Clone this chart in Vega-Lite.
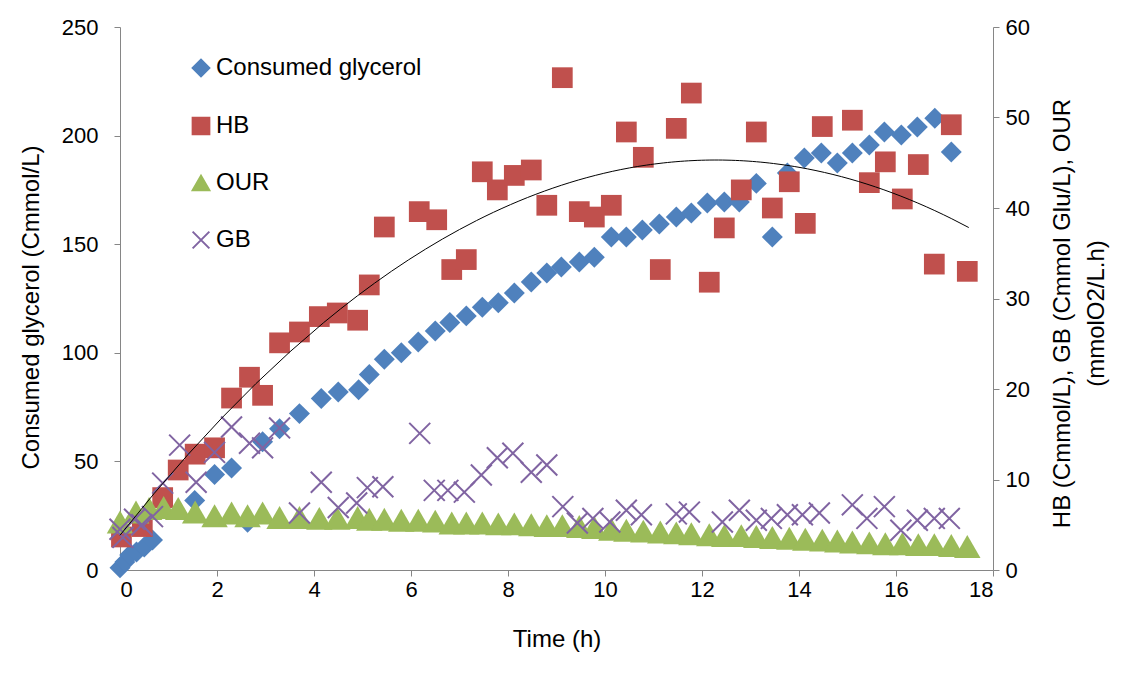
{
  "$schema": "https://vega.github.io/schema/vega-lite/v6.json",
  "width": 873,
  "height": 543,
  "autosize": "none",
  "padding": {"left": 120, "top": 27, "right": 147, "bottom": 112},
  "background": "white",
  "config": {
    "view": {"stroke": null},
    "font": "Liberation Sans",
    "axis": {
      "grid": false,
      "domainColor": "#868686",
      "tickColor": "#868686",
      "tickSize": 6,
      "labelFont": "Liberation Sans",
      "labelFontSize": 22,
      "labelColor": "#000000",
      "titleFont": "Liberation Sans",
      "titleFontSize": 24,
      "titleFontWeight": "normal",
      "titleColor": "#000000"
    }
  },
  "datasets": {
    "series": [
      {"s": "Consumed glycerol", "t": 0, "v": 1},
      {"s": "Consumed glycerol", "t": 0.1, "v": 3.7},
      {"s": "Consumed glycerol", "t": 0.2, "v": 6.9},
      {"s": "Consumed glycerol", "t": 0.34, "v": 8.3},
      {"s": "Consumed glycerol", "t": 0.5, "v": 10.6},
      {"s": "Consumed glycerol", "t": 0.67, "v": 13.8},
      {"s": "Consumed glycerol", "t": 1.54, "v": 32},
      {"s": "Consumed glycerol", "t": 1.95, "v": 44},
      {"s": "Consumed glycerol", "t": 2.3, "v": 47},
      {"s": "Consumed glycerol", "t": 2.63, "v": 22},
      {"s": "Consumed glycerol", "t": 2.94, "v": 59},
      {"s": "Consumed glycerol", "t": 3.29, "v": 65},
      {"s": "Consumed glycerol", "t": 3.7, "v": 72},
      {"s": "Consumed glycerol", "t": 4.15, "v": 79},
      {"s": "Consumed glycerol", "t": 4.5, "v": 82},
      {"s": "Consumed glycerol", "t": 4.92, "v": 83},
      {"s": "Consumed glycerol", "t": 5.14, "v": 90},
      {"s": "Consumed glycerol", "t": 5.45, "v": 97},
      {"s": "Consumed glycerol", "t": 5.8, "v": 100},
      {"s": "Consumed glycerol", "t": 6.15, "v": 105},
      {"s": "Consumed glycerol", "t": 6.5, "v": 110},
      {"s": "Consumed glycerol", "t": 6.8, "v": 114},
      {"s": "Consumed glycerol", "t": 7.14, "v": 117},
      {"s": "Consumed glycerol", "t": 7.47, "v": 121},
      {"s": "Consumed glycerol", "t": 7.8, "v": 123},
      {"s": "Consumed glycerol", "t": 8.13, "v": 127.5},
      {"s": "Consumed glycerol", "t": 8.48, "v": 132.6},
      {"s": "Consumed glycerol", "t": 8.8, "v": 136.7},
      {"s": "Consumed glycerol", "t": 9.1, "v": 139.5},
      {"s": "Consumed glycerol", "t": 9.47, "v": 141.8},
      {"s": "Consumed glycerol", "t": 9.78, "v": 144},
      {"s": "Consumed glycerol", "t": 10.13, "v": 153.3},
      {"s": "Consumed glycerol", "t": 10.44, "v": 153.3},
      {"s": "Consumed glycerol", "t": 10.77, "v": 156.5},
      {"s": "Consumed glycerol", "t": 11.12, "v": 159.3},
      {"s": "Consumed glycerol", "t": 11.47, "v": 162.5},
      {"s": "Consumed glycerol", "t": 11.78, "v": 164.4},
      {"s": "Consumed glycerol", "t": 12.11, "v": 169},
      {"s": "Consumed glycerol", "t": 12.46, "v": 169.4},
      {"s": "Consumed glycerol", "t": 12.77, "v": 169.4},
      {"s": "Consumed glycerol", "t": 13.12, "v": 178},
      {"s": "Consumed glycerol", "t": 13.45, "v": 153.3},
      {"s": "Consumed glycerol", "t": 13.76, "v": 182.8},
      {"s": "Consumed glycerol", "t": 14.11, "v": 189.7},
      {"s": "Consumed glycerol", "t": 14.46, "v": 192},
      {"s": "Consumed glycerol", "t": 14.79, "v": 187.4},
      {"s": "Consumed glycerol", "t": 15.1, "v": 192},
      {"s": "Consumed glycerol", "t": 15.45, "v": 195.7},
      {"s": "Consumed glycerol", "t": 15.76, "v": 201.7},
      {"s": "Consumed glycerol", "t": 16.11, "v": 200.3},
      {"s": "Consumed glycerol", "t": 16.44, "v": 204},
      {"s": "Consumed glycerol", "t": 16.8, "v": 208},
      {"s": "Consumed glycerol", "t": 17.14, "v": 192.4},

      {"s": "HB", "t": 0.03, "v": 3.65},
      {"s": "HB", "t": 0.46, "v": 4.8},
      {"s": "HB", "t": 0.88, "v": 8.0},
      {"s": "HB", "t": 1.2, "v": 11.05},
      {"s": "HB", "t": 1.55, "v": 12.8},
      {"s": "HB", "t": 1.95, "v": 13.5},
      {"s": "HB", "t": 2.3, "v": 19.0},
      {"s": "HB", "t": 2.67, "v": 21.3},
      {"s": "HB", "t": 2.94, "v": 19.3},
      {"s": "HB", "t": 3.29, "v": 25.1},
      {"s": "HB", "t": 3.7, "v": 26.3},
      {"s": "HB", "t": 4.11, "v": 28.0},
      {"s": "HB", "t": 4.48, "v": 28.4},
      {"s": "HB", "t": 4.9, "v": 27.6},
      {"s": "HB", "t": 5.14, "v": 31.5},
      {"s": "HB", "t": 5.45, "v": 37.9},
      {"s": "HB", "t": 6.17, "v": 39.6},
      {"s": "HB", "t": 6.53, "v": 38.7},
      {"s": "HB", "t": 6.84, "v": 33.2},
      {"s": "HB", "t": 7.14, "v": 34.3},
      {"s": "HB", "t": 7.47, "v": 44.0},
      {"s": "HB", "t": 7.78, "v": 42.0},
      {"s": "HB", "t": 8.13, "v": 43.6},
      {"s": "HB", "t": 8.48, "v": 44.2},
      {"s": "HB", "t": 8.8, "v": 40.3},
      {"s": "HB", "t": 9.12, "v": 54.4},
      {"s": "HB", "t": 9.47, "v": 39.6},
      {"s": "HB", "t": 9.78, "v": 39.0},
      {"s": "HB", "t": 10.13, "v": 40.3},
      {"s": "HB", "t": 10.44, "v": 48.4},
      {"s": "HB", "t": 10.79, "v": 45.6},
      {"s": "HB", "t": 11.14, "v": 33.2},
      {"s": "HB", "t": 11.47, "v": 48.8},
      {"s": "HB", "t": 11.78, "v": 52.7},
      {"s": "HB", "t": 12.15, "v": 31.8},
      {"s": "HB", "t": 12.46, "v": 37.8},
      {"s": "HB", "t": 12.81, "v": 42.0},
      {"s": "HB", "t": 13.12, "v": 48.4},
      {"s": "HB", "t": 13.45, "v": 40.0},
      {"s": "HB", "t": 13.8, "v": 42.9},
      {"s": "HB", "t": 14.13, "v": 38.3},
      {"s": "HB", "t": 14.48, "v": 49.0},
      {"s": "HB", "t": 15.1, "v": 49.7},
      {"s": "HB", "t": 15.45, "v": 42.8},
      {"s": "HB", "t": 15.78, "v": 45.1},
      {"s": "HB", "t": 16.13, "v": 41.0},
      {"s": "HB", "t": 16.46, "v": 44.8},
      {"s": "HB", "t": 16.79, "v": 33.8},
      {"s": "HB", "t": 17.14, "v": 49.2},
      {"s": "HB", "t": 17.47, "v": 33.0},

      {"s": "OUR", "t": 0, "v": 5.3},
      {"s": "OUR", "t": 0.33, "v": 6.4},
      {"s": "OUR", "t": 0.6, "v": 6.8},
      {"s": "OUR", "t": 0.9, "v": 6.9},
      {"s": "OUR", "t": 1.2, "v": 6.8},
      {"s": "OUR", "t": 1.55, "v": 6.4},
      {"s": "OUR", "t": 1.95, "v": 6.0},
      {"s": "OUR", "t": 2.3, "v": 6.3},
      {"s": "OUR", "t": 2.63, "v": 6.0},
      {"s": "OUR", "t": 2.94, "v": 6.3},
      {"s": "OUR", "t": 3.29, "v": 5.8},
      {"s": "OUR", "t": 3.7, "v": 5.8},
      {"s": "OUR", "t": 4.11, "v": 5.7},
      {"s": "OUR", "t": 4.48, "v": 5.7},
      {"s": "OUR", "t": 4.9, "v": 5.8},
      {"s": "OUR", "t": 5.14, "v": 5.6},
      {"s": "OUR", "t": 5.45, "v": 5.6},
      {"s": "OUR", "t": 5.8, "v": 5.5},
      {"s": "OUR", "t": 6.15, "v": 5.5},
      {"s": "OUR", "t": 6.5, "v": 5.4},
      {"s": "OUR", "t": 6.84, "v": 5.2},
      {"s": "OUR", "t": 7.14, "v": 5.2},
      {"s": "OUR", "t": 7.47, "v": 5.2},
      {"s": "OUR", "t": 7.8, "v": 5.1},
      {"s": "OUR", "t": 8.13, "v": 5.1},
      {"s": "OUR", "t": 8.48, "v": 5.0},
      {"s": "OUR", "t": 8.8, "v": 4.9},
      {"s": "OUR", "t": 9.12, "v": 4.9},
      {"s": "OUR", "t": 9.47, "v": 4.8},
      {"s": "OUR", "t": 9.78, "v": 4.7},
      {"s": "OUR", "t": 10.13, "v": 4.5},
      {"s": "OUR", "t": 10.44, "v": 4.4},
      {"s": "OUR", "t": 10.79, "v": 4.3},
      {"s": "OUR", "t": 11.14, "v": 4.2},
      {"s": "OUR", "t": 11.47, "v": 4.1},
      {"s": "OUR", "t": 11.78, "v": 4.0},
      {"s": "OUR", "t": 12.15, "v": 3.9},
      {"s": "OUR", "t": 12.46, "v": 3.8},
      {"s": "OUR", "t": 12.81, "v": 3.8},
      {"s": "OUR", "t": 13.12, "v": 3.7},
      {"s": "OUR", "t": 13.45, "v": 3.6},
      {"s": "OUR", "t": 13.8, "v": 3.5},
      {"s": "OUR", "t": 14.13, "v": 3.4},
      {"s": "OUR", "t": 14.48, "v": 3.3},
      {"s": "OUR", "t": 14.79, "v": 3.2},
      {"s": "OUR", "t": 15.1, "v": 3.1},
      {"s": "OUR", "t": 15.45, "v": 3.0},
      {"s": "OUR", "t": 15.78, "v": 2.9},
      {"s": "OUR", "t": 16.13, "v": 2.9},
      {"s": "OUR", "t": 16.46, "v": 2.8},
      {"s": "OUR", "t": 16.79, "v": 2.8},
      {"s": "OUR", "t": 17.14, "v": 2.7},
      {"s": "OUR", "t": 17.47, "v": 2.6},

      {"s": "GB", "t": 0, "v": 4.5},
      {"s": "GB", "t": 0.06, "v": 3.6},
      {"s": "GB", "t": 0.3, "v": 5.6},
      {"s": "GB", "t": 0.45, "v": 5.0},
      {"s": "GB", "t": 0.67, "v": 5.9},
      {"s": "GB", "t": 0.88, "v": 9.6},
      {"s": "GB", "t": 1.23, "v": 13.8},
      {"s": "GB", "t": 1.57, "v": 9.7},
      {"s": "GB", "t": 1.95, "v": 13.0},
      {"s": "GB", "t": 2.3, "v": 15.8},
      {"s": "GB", "t": 2.67, "v": 14.0},
      {"s": "GB", "t": 2.94, "v": 13.5},
      {"s": "GB", "t": 3.29, "v": 15.7},
      {"s": "GB", "t": 3.7, "v": 6.3},
      {"s": "GB", "t": 4.15, "v": 9.7},
      {"s": "GB", "t": 4.5, "v": 6.9},
      {"s": "GB", "t": 4.88, "v": 7.4},
      {"s": "GB", "t": 5.1, "v": 9.1},
      {"s": "GB", "t": 5.42, "v": 9.2},
      {"s": "GB", "t": 6.18, "v": 15.1},
      {"s": "GB", "t": 6.48, "v": 8.8},
      {"s": "GB", "t": 6.76, "v": 8.8},
      {"s": "GB", "t": 7.1, "v": 8.6},
      {"s": "GB", "t": 7.45, "v": 10.5},
      {"s": "GB", "t": 7.78, "v": 12.4},
      {"s": "GB", "t": 8.1, "v": 12.9},
      {"s": "GB", "t": 8.48, "v": 10.8},
      {"s": "GB", "t": 8.8, "v": 11.6},
      {"s": "GB", "t": 9.13, "v": 7.0},
      {"s": "GB", "t": 9.43, "v": 5.2},
      {"s": "GB", "t": 9.75, "v": 5.7},
      {"s": "GB", "t": 10.1, "v": 5.3},
      {"s": "GB", "t": 10.44, "v": 6.6},
      {"s": "GB", "t": 10.75, "v": 6.1},
      {"s": "GB", "t": 11.47, "v": 6.2},
      {"s": "GB", "t": 11.74, "v": 6.4},
      {"s": "GB", "t": 12.42, "v": 5.3},
      {"s": "GB", "t": 12.77, "v": 6.6},
      {"s": "GB", "t": 13.12, "v": 5.5},
      {"s": "GB", "t": 13.43, "v": 5.7},
      {"s": "GB", "t": 13.76, "v": 6.1},
      {"s": "GB", "t": 14.07, "v": 6.1},
      {"s": "GB", "t": 14.42, "v": 6.3},
      {"s": "GB", "t": 15.1, "v": 7.2},
      {"s": "GB", "t": 15.4, "v": 5.7},
      {"s": "GB", "t": 15.76, "v": 7.0},
      {"s": "GB", "t": 16.1, "v": 4.4},
      {"s": "GB", "t": 16.44, "v": 5.5},
      {"s": "GB", "t": 16.79, "v": 5.7},
      {"s": "GB", "t": 17.1, "v": 5.7}
    ]
  },
  "data": {"name": "series"},
  "encoding": {
    "x": {
      "field": "t",
      "type": "quantitative",
      "scale": {"domain": [0, 18], "nice": false, "zero": false},
      "axis": {
        "values": [0, 2, 4, 6, 8, 10, 12, 14, 16, 18],
        "title": "Time (h)",
        "labelPadding": 3,
        "titlePadding": 27
      }
    }
  },
  "layer": [
    {
      "transform": [{"filter": "datum.s === 'Consumed glycerol'"}],
      "mark": {"type": "point", "filled": true, "size": 440, "opacity": 1},
      "encoding": {
        "y": {
          "field": "v",
          "type": "quantitative",
          "scale": {"domain": [0, 250], "nice": false},
          "axis": {
            "orient": "left",
            "values": [0, 50, 100, 150, 200, 250],
            "title": "Consumed glycerol (Cmmol/L)",
            "titleY": 280,
            "labelPadding": 16,
            "titlePadding": 18
          }
        },
        "color": {
          "field": "s",
          "type": "nominal",
          "scale": {"domain": ["Consumed glycerol", "HB", "OUR", "GB"], "range": ["#4F81BD", "#C0504D", "#9BBB59", "#8064A2"]},
          "legend": {
            "title": null,
            "orient": "none",
            "legendX": 69,
            "legendY": 29,
            "padding": 0,
            "rowPadding": 32,
            "labelFontSize": 24,
            "labelFont": "Liberation Sans",
            "labelColor": "#000000",
            "labelLimit": 500,
            "labelOffset": 3,
            "symbolSize": 280,
            "symbolStrokeWidth": 2,
            "encode": {
              "symbols": {
                "update": {
                  "fill": {"scale": "color", "field": "value"},
                  "stroke": {"scale": "color", "field": "value"},
                  "opacity": {"value": 1}
                }
              }
            }
          }
        },
        "shape": {
          "field": "s",
          "type": "nominal",
          "scale": {"domain": ["Consumed glycerol", "HB", "OUR", "GB"], "range": ["diamond", "square", "triangle-up", "M-1,-1L1,1M-1,1L1,-1"]},
          "legend": {
            "title": null,
            "orient": "none",
            "legendX": 69,
            "legendY": 29,
            "padding": 0,
            "rowPadding": 32,
            "labelFontSize": 24,
            "labelLimit": 500,
            "labelOffset": 3,
            "symbolSize": 280
          }
        }
      }
    },
    {
      "encoding": {
        "y": {
          "field": "v",
          "type": "quantitative",
          "scale": {"domain": [0, 60], "nice": false},
          "axis": {
            "orient": "right",
            "values": [0, 10, 20, 30, 40, 50, 60],
            "title": ["HB (Cmmol/L),  GB (Cmmol Glu/L), OUR", "(mmolO2/L.h)"],
            "titleAngle": 270,
            "titleLineHeight": 34,
            "titleY": 286,
            "labelPadding": 6,
            "titlePadding": 11
          }
        }
      },
      "layer": [
        {
          "transform": [{"filter": "datum.s === 'HB'"}],
          "mark": {"type": "point", "filled": true, "size": 430, "opacity": 1},
          "encoding": {
            "color": {"field": "s", "type": "nominal"},
            "shape": {"field": "s", "type": "nominal"}
          }
        },
        {
          "transform": [{"filter": "datum.s === 'OUR'"}],
          "mark": {"type": "point", "filled": true, "size": 700, "opacity": 1},
          "encoding": {
            "color": {"field": "s", "type": "nominal"},
            "shape": {"field": "s", "type": "nominal"}
          }
        },
        {
          "transform": [{"filter": "datum.s === 'GB'"}],
          "mark": {"type": "point", "filled": false, "size": 440, "strokeWidth": 2, "opacity": 1},
          "encoding": {
            "color": {"field": "s", "type": "nominal"},
            "shape": {"field": "s", "type": "nominal"}
          }
        },
        {
          "transform": [
            {"filter": "datum.s === 'HB'"},
            {"regression": "v", "on": "t", "method": "poly", "order": 2, "extent": [0, 17.5]}
          ],
          "mark": {"type": "line", "color": "#000000", "strokeWidth": 1},
          "encoding": {}
        }
      ]
    }
  ],
  "resolve": {"scale": {"y": "independent"}}
}
